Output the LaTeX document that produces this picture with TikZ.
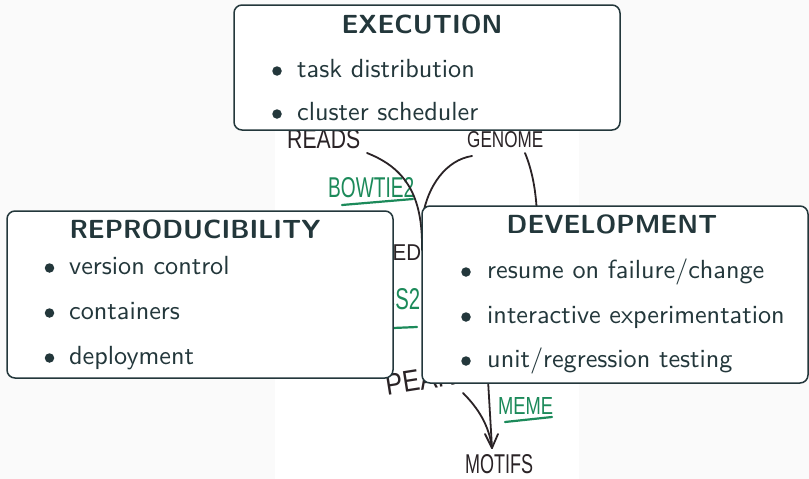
\documentclass[tikz,border=0pt]{standalone}
\usepackage{fontspec}
\usepackage{graphicx}
\setsansfont{lmsans10-regular.otf}[BoldFont=lmsans10-bold.otf]
\newfontfamily\handfont{Liberation Sans}
\definecolor{pagebg}{HTML}{FAFAFA}
\definecolor{slate}{HTML}{23373B}
\definecolor{ink}{HTML}{2A2326}
\definecolor{marker}{HTML}{1C8A5A}
\newcommand{\bodysize}{\fontsize{26.2pt}{32pt}\selectfont}
\tikzset{
  panel/.style={draw=slate, line width=1.5pt, rounded corners=8pt, fill=white,
    inner sep=0pt},
  paneltitle/.style={text=slate, inner sep=0pt, anchor=base,
    font=\sffamily\bfseries\bodysize},
  itemtext/.style={text=slate, inner sep=0pt, anchor=base west,
    font=\sffamily\bodysize},
  itembullet/.style={circle, fill=slate, inner sep=0pt, minimum size=9.5pt},
  hand/.style={text=ink, inner sep=0pt, anchor=south west, font=\handfont},
  greenhand/.style={hand, text=marker},
  inkline/.style={draw=ink, line width=1.8pt, line cap=round, line join=round},
  greenline/.style={draw=marker, line width=2.2pt, line cap=round},
}
\begin{document}
\begin{tikzpicture}[x=1pt, y=-1pt]
  \useasboundingbox (0,0) rectangle (809,479);
  \fill[pagebg] (0,0) rectangle (809,479);
  % the hand-drawn pipeline sketch on its white sheet
  \fill[white] (275,20) rectangle (579,479);

  \node[hand] (reads) at (287,149) {\resizebox{73pt}{19pt}{READS}};
  \node[hand] (genome) at (467,148) {\resizebox{76pt}{16pt}{GENOME}};
  \node[greenhand] (bowtie) at (328,198) {\resizebox{86pt}{20pt}{BOWTIE2}};
  \node[hand] (aligned) at (331,261) {\resizebox{90pt}{16pt}{ALIGNED}};
  \node[greenhand] (macs) at (350,310) {\resizebox{70pt}{21pt}{MACS2}};
  \node[hand, rotate=9] (peaks) at (387,396) {\resizebox{86pt}{21pt}{PEAKS}};
  \node[greenhand] (meme) at (498,415) {\resizebox{55pt}{17pt}{MEME}};
  \node[hand] (motifs) at (465,474) {\resizebox{68pt}{19pt}{MOTIFS}};

  \coordinate (readsout) at (367,153);
  \coordinate (genomeout) at (472,156);
  \coordinate (genomeside) at (525,153);
  \coordinate (alignedin) at (422,250);
  \coordinate (peaksout) at (463,393);
  \coordinate (motifsin) at (492,448);

  \draw[inkline] (readsout) .. controls (405,168) and (423,195) .. (alignedin);
  \draw[inkline] (genomeout) .. controls (446,160) and (428,186) .. (423,215);
  \draw[inkline] (genomeside) .. controls (532,170) and (536,190) .. (537,215);
  \draw[inkline] (peaksout) .. controls (478,408) and (489,425) .. (motifsin);
  \draw[inkline] (488,380) -- (motifsin);
  \draw[inkline] (485,434) -- (motifsin) -- (498,434);

  \draw[greenline] (342,205) -- (413,199);
  \draw[greenline] (345,330) -- (417,327);
  \draw[greenline] (505,422) -- (552,417);

  % the three panels laid over the sketch
  \node[panel, minimum width=386pt, minimum height=125pt] (exec) at (427,67.5) {};
  \node[paneltitle] (exectitle) at (422,33) {EXECUTION};
  \node[itembullet] (eb1) at (277,71) {};
  \node[itemtext] (ei1) at (297,77) {task distribution};
  \node[itembullet] (eb2) at (277,114) {};
  \node[itemtext] (ei2) at (297,120) {cluster scheduler};

  \node[panel, minimum width=386pt, minimum height=167pt] (repro) at (200,294.5) {};
  \node[paneltitle] (reprotitle) at (195,238) {REPRODUCIBILITY};
  \node[itembullet] (rb1) at (49.5,268) {};
  \node[itemtext] (ri1) at (69,274) {version control};
  \node[itembullet] (rb2) at (49.5,313) {};
  \node[itemtext] (ri2) at (69,319) {containers};
  \node[itembullet] (rb3) at (49.5,358) {};
  \node[itemtext] (ri3) at (69,364) {deployment};

  \node[panel, minimum width=386pt, minimum height=177pt] (dev) at (615,294.5) {};
  \node[paneltitle] (devtitle) at (612,233) {DEVELOPMENT};
  \node[itembullet] (db1) at (466,272) {};
  \node[itemtext] (di1) at (487,278) {resume on failure/change};
  \node[itembullet] (db2) at (466,317) {};
  \node[itemtext] (di2) at (487,323) {interactive experimentation};
  \node[itembullet] (db3) at (466,361) {};
  \node[itemtext] (di3) at (487,367) {unit/regression testing};
\end{tikzpicture}
\end{document}
